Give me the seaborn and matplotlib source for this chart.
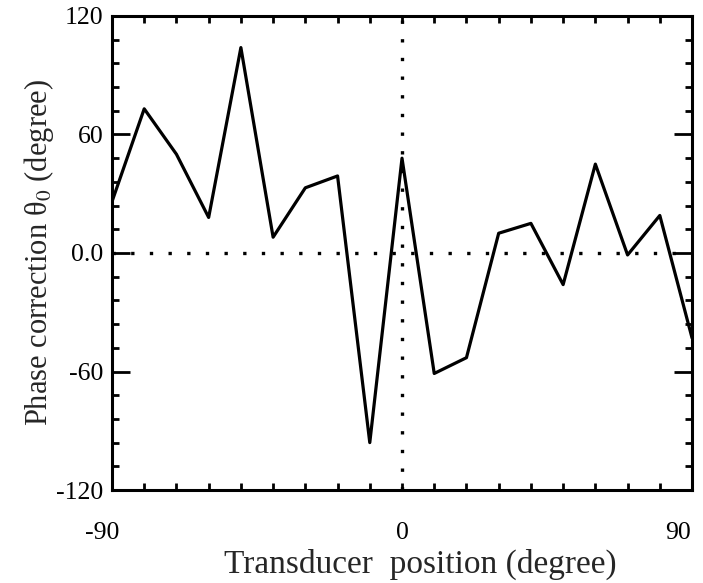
import numpy as np
import pandas as pd

import matplotlib.pyplot as plt
import matplotlib.transforms as mtransforms
from matplotlib.ticker import MultipleLocator
import seaborn as sns

sns.set_style('ticks')
plt.rcParams['font.family'] = ['Liberation Serif', 'DejaVu Serif']
plt.rcParams['mathtext.fontset'] = 'stix'
plt.rcParams['axes.unicode_minus'] = False

# Data
position = [-90, -80, -70, -60, -50, -40, -30, -20, -10, 0,
            10, 20, 30, 40, 50, 60, 70, 80, 90]
phase = [26, 73, 50, 18, 104, 8, 33, 39, -96, 48,
         -61, -53, 10, 15, -16, 45, -1, 19, -43]
xticks = [-90, 0, 90]
yticks = [-120, -60, 0, 60, 120]
ytick_labels = ['-120', '-60', '0.0', '60', '120']

df = pd.DataFrame({'position': position, 'phase': phase})

fig = plt.figure(figsize=(7.03, 5.83), dpi=100)
ax = fig.add_axes([0.1593, 0.1595, 0.8251, 0.8131])

# dotted zero lines
ax.axhline(0, color='black', lw=2.4, ls=(0, (1, 4.6)), zorder=1)
ax.axvline(0, color='black', lw=2.4, ls=(0, (1, 4.6)), zorder=1)

sns.lineplot(data=df, x='position', y='phase', color='black', lw=2.3, ax=ax, zorder=2)

ax.set_xlim(-90, 90)
ax.set_ylim(-120, 120)
ax.set_xticks(xticks)
ax.set_yticks(yticks)
ax.set_yticklabels(ytick_labels)
ax.xaxis.set_minor_locator(MultipleLocator(10))
ax.yaxis.set_minor_locator(MultipleLocator(12))

ax.tick_params(which='both', direction='in', top=True, right=True, width=2, colors='black')
ax.tick_params(which='major', axis='y', length=13, labelsize=18.5, pad=6)
ax.tick_params(which='minor', axis='y', length=5)
ax.tick_params(which='major', axis='x', length=5, labelsize=18.5, pad=23)
ax.tick_params(which='minor', axis='x', length=5)

# the end labels sit a bit left of their ticks in the original
labels = ax.get_xticklabels()
labels[0].set_transform(labels[0].get_transform() +
                        mtransforms.ScaledTranslation(-0.10, 0, fig.dpi_scale_trans))
labels[-1].set_transform(labels[-1].get_transform() +
                         mtransforms.ScaledTranslation(-0.14, 0, fig.dpi_scale_trans))

for s in ax.spines.values():
    s.set_linewidth(2.2)
    s.set_color('black')

ax.set_xlabel('Transducer  position (degree)', fontsize=24, labelpad=0)
ax.xaxis.set_label_coords(0.531, -0.124)
ax.set_ylabel('Phase correction θ$_0$ (degree)', fontsize=22, labelpad=0)

fig.savefig('out.png', dpi=100)
